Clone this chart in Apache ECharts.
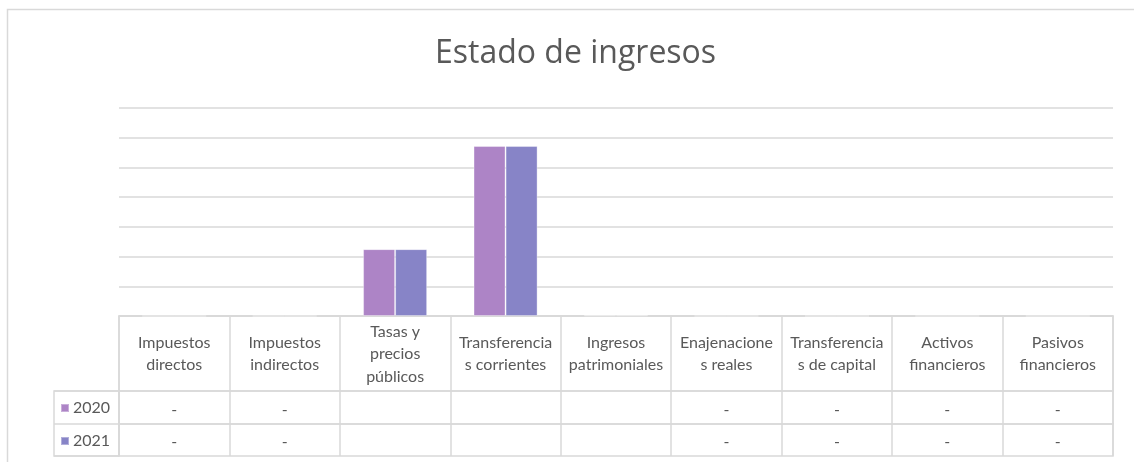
<!DOCTYPE html>
<html>
<head>
<meta charset="utf-8">
<script src="https://cdn.jsdelivr.net/npm/echarts@6/dist/echarts.min.js"></script>
<style>
html, body { margin: 0; padding: 0; background: #fff; }
#chart { width: 1134px; height: 462px; }
</style>
</head>
<body>
<div id="chart"></div>
<script>
// categories (as named in the sheet) and the wrapped header text of the data table
const categories = ['Impuestos directos', 'Impuestos indirectos', 'Tasas y precios públicos', 'Transferencias corrientes', 'Ingresos patrimoniales', 'Enajenaciones reales', 'Transferencias de capital', 'Activos financieros', 'Pasivos financieros']
const headerLabels = ['Impuestos\ndirectos', 'Impuestos\nindirectos', 'Tasas y\nprecios\npúblicos', 'Transferencia\ns corrientes', 'Ingresos\npatrimoniales', 'Enajenacione\ns reales', 'Transferencia\ns de capital', 'Activos\nfinancieros', 'Pasivos\nfinancieros']
const seriesNames = ['2020', '2021']
const values2020 = [0, 0, 2.25, 5.72, 0.02, 0, 0, 0, 0]
const values2021 = [0, 0, 2.25, 5.72, 0.02, 0, 0, 0, 0]
const colors = ['#ad84c6', '#8784c7']

const lineColor = '#d9d9d9'
const textColor = '#595959'
const font = 'Lato, "Open Sans", sans-serif'

// zero shows as "-" in the table, the other values are not printed
function cell (v) {
  return v === 0 ? '-' : ''
}

let myChart = echarts.init(document.getElementById('chart'))
let option = {
  backgroundColor: '#fff',
  color: colors,
  textStyle: { fontFamily: font },
  title: {
    text: 'Estado de ingresos',
    left: 430,
    top: 33,
    textStyle: { color: textColor, fontSize: 32, fontWeight: 'normal', fontFamily: '"Open Sans", Lato, sans-serif' }
  },
  graphic: [{
    type: 'rect',
    shape: { x: 7.5, y: 9.5, width: 1200, height: 500 },
    style: { fill: 'none', stroke: lineColor, lineWidth: 1.5 },
    silent: true
  }],
  legend: {
    data: seriesNames,
    orient: 'vertical',
    left: 55,
    top: 393,
    icon: 'rect',
    itemWidth: 8,
    itemHeight: 8,
    itemGap: 13,
    selectedMode: false,
    textStyle: { color: textColor, fontSize: 16, lineHeight: 20, fontFamily: font, padding: [0, 0, 0, -1] }
  },
  grid: [
    { left: 119, right: 21, top: 108, bottom: 146 },
    { left: 119, right: 21, top: 316, height: 75, show: true, borderColor: lineColor, borderWidth: 1.5 },
    { left: 119, right: 21, top: 391, height: 33, show: true, borderColor: lineColor, borderWidth: 1.5 },
    { left: 119, right: 21, top: 424, height: 32, show: true, borderColor: lineColor, borderWidth: 1.5 },
    { left: 54, width: 65, top: 391, height: 65, show: true, borderColor: lineColor, borderWidth: 1.5 }
  ],
  xAxis: [
    {
      gridIndex: 0,
      type: 'category',
      data: categories,
      axisLine: { lineStyle: { color: lineColor, width: 1.5 } },
      axisTick: { show: false },
      axisLabel: {
        interval: 0,
        margin: 38,
        verticalAlign: 'middle',
        align: 'center',
        color: textColor,
        fontSize: 16,
        lineHeight: 22.5,
        fontFamily: font,
        formatter: (v, i) => headerLabels[i]
      }
    },
    {
      gridIndex: 1,
      type: 'category',
      data: categories,
      axisLine: { show: false },
      axisTick: { show: false },
      axisLabel: { show: false },
      splitLine: { show: true, interval: 0, lineStyle: { color: lineColor, width: 1.5 } }
    },
    {
      gridIndex: 2,
      type: 'category',
      data: categories,
      axisLine: { show: false },
      axisTick: { show: false },
      axisLabel: {
        inside: true,
        interval: 0,
        margin: 14,
        verticalAlign: 'middle',
        color: textColor,
        fontSize: 16,
        fontFamily: font,
        formatter: (v, i) => cell(values2020[i])
      },
      splitLine: { show: true, interval: 0, lineStyle: { color: lineColor, width: 1.5 } }
    },
    {
      gridIndex: 3,
      type: 'category',
      data: categories,
      axisLine: { show: false },
      axisTick: { show: false },
      axisLabel: {
        inside: true,
        interval: 0,
        margin: 14,
        verticalAlign: 'middle',
        color: textColor,
        fontSize: 16,
        fontFamily: font,
        formatter: (v, i) => cell(values2021[i])
      },
      splitLine: { show: true, interval: 0, lineStyle: { color: lineColor, width: 1.5 } }
    },
    { gridIndex: 4, type: 'value', show: false }
  ],
  yAxis: [
    {
      gridIndex: 0,
      type: 'value',
      min: 0,
      max: 7,
      interval: 1,
      axisLine: { show: false },
      axisTick: { show: false },
      axisLabel: { show: false },
      splitLine: { show: true, lineStyle: { color: lineColor, width: 1.5 } }
    },
    { gridIndex: 1, type: 'value', show: false },
    { gridIndex: 2, type: 'value', show: false },
    { gridIndex: 3, type: 'value', show: false },
    {
      gridIndex: 4,
      type: 'category',
      data: seriesNames,
      inverse: true,
      axisLine: { show: false },
      axisTick: { show: false },
      axisLabel: { show: false },
      splitLine: { show: true, interval: 0, lineStyle: { color: lineColor, width: 1.5 } }
    }
  ],
  series: [
    {
      name: seriesNames[0],
      type: 'bar',
      data: values2020,
      barGap: 0,
      barCategoryGap: '42%',
      itemStyle: { borderColor: 'rgba(255,255,255,0.35)', borderWidth: 1 }
    },
    {
      name: seriesNames[1],
      type: 'bar',
      data: values2021,
      barGap: 0,
      barCategoryGap: '42%',
      itemStyle: { borderColor: 'rgba(255,255,255,0.35)', borderWidth: 1 }
    }
  ]
}
myChart.setOption(option)
</script>
</body>
</html>
